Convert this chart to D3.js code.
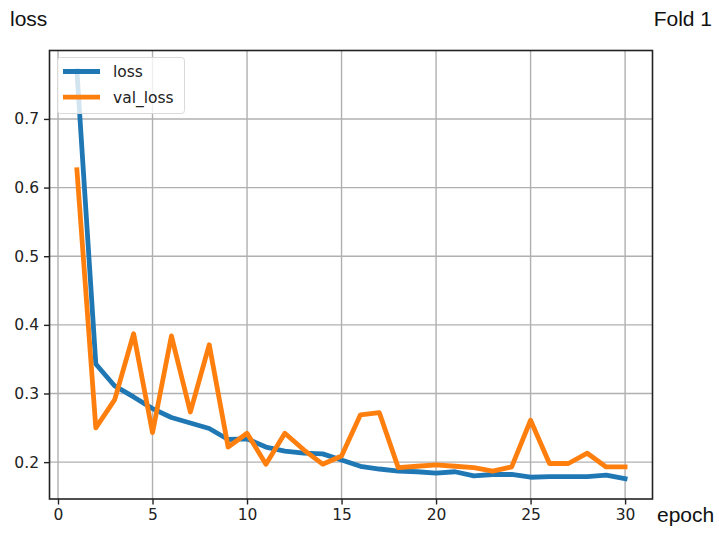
<!DOCTYPE html>
<html>
<head>
<meta charset="utf-8">
<script src="https://cdn.jsdelivr.net/npm/d3@7"></script>
<style>
  html, body { margin: 0; padding: 0; background: #fff; }
  svg { display: block; }
</style>
</head>
<body>
<svg id="chart" width="719" height="533"></svg>
<script>
const epochs = d3.range(1, 31);
const lossValues = [0.770, 0.343, 0.311, 0.295, 0.278, 0.265, 0.257, 0.249, 0.233, 0.234,
                    0.222, 0.216, 0.213, 0.212, 0.203, 0.194, 0.190, 0.187, 0.186, 0.184,
                    0.186, 0.180, 0.182, 0.182, 0.178, 0.179, 0.179, 0.179, 0.181, 0.176];
const valLossValues = [0.626, 0.250, 0.291, 0.387, 0.243, 0.384, 0.273, 0.371, 0.222, 0.242,
                       0.197, 0.242, 0.218, 0.197, 0.209, 0.269, 0.272, 0.192, 0.194, 0.196,
                       0.194, 0.192, 0.187, 0.193, 0.261, 0.198, 0.198, 0.213, 0.193, 0.193];
const xTicks = [0, 5, 10, 15, 20, 25, 30];
const yTicks = [0.2, 0.3, 0.4, 0.5, 0.6, 0.7];
const seriesNames = ["loss", "val_loss"];
const seriesColors = ["#1f77b4", "#ff7f0e"];

(function () {
const svg = d3.select("#chart");
const mLeft = 49.5, mRight = 652.5, mTop = 50.5, mBottom = 499;

const allVals = lossValues.concat(valLossValues);
const yMin = d3.min(allVals), yMax = d3.max(allVals);
const yPad = (yMax - yMin) * 0.05;
const xPad = (30 - 1) * 0.05;

const x = d3.scaleLinear().domain([1 - xPad, 30 + xPad]).range([mLeft, mRight]);
const y = d3.scaleLinear().domain([yMin - yPad, yMax + yPad]).range([mBottom, mTop]);

// grid
const grid = svg.append("g");
grid.selectAll("line.gx").data(xTicks).join("line")
  .attr("x1", d => x(d)).attr("x2", d => x(d))
  .attr("y1", mTop).attr("y2", mBottom)
  .attr("stroke", "#b0b0b0").attr("stroke-width", 1.4);
grid.selectAll("line.gy").data(yTicks).join("line")
  .attr("y1", d => y(d)).attr("y2", d => y(d))
  .attr("x1", mLeft).attr("x2", mRight)
  .attr("stroke", "#b0b0b0").attr("stroke-width", 1.4);

// lines
const series = [lossValues, valLossValues];
const line = d3.line().x((d, i) => x(epochs[i])).y(d => y(d));
svg.append("g").selectAll("path").data(series).join("path")
  .attr("d", d => line(d))
  .attr("fill", "none")
  .attr("stroke", (d, i) => seriesColors[i])
  .attr("stroke-width", 4.8)
  .attr("stroke-linejoin", "round")
  .attr("stroke-linecap", "square");

// axes
const xAxis = d3.axisBottom(x).tickValues(xTicks).tickFormat(d3.format("d")).tickSize(5.5).tickPadding(4);
const yAxis = d3.axisLeft(y).tickValues(yTicks).tickFormat(d3.format(".1f")).tickSize(5.5).tickPadding(5);

const gx = svg.append("g").attr("transform", `translate(0,${mBottom})`).call(xAxis);
const gy = svg.append("g").attr("transform", `translate(${mLeft},0)`).call(yAxis);
[gx, gy].forEach(g => {
  g.select(".domain").remove();
  g.selectAll("line").attr("stroke", "#222").attr("stroke-width", 1.4);
  g.selectAll("text").attr("fill", "#222").style("font-family", "DejaVu Sans").style("font-size", "15.5px");
});

// frame
svg.append("rect")
  .attr("x", mLeft).attr("y", mTop)
  .attr("width", mRight - mLeft).attr("height", mBottom - mTop)
  .attr("fill", "none").attr("stroke", "#222").attr("stroke-width", 1.6);

// legend
const lg = svg.append("g");
lg.append("rect")
  .attr("x", 57.5).attr("y", 57.5).attr("width", 127).attr("height", 56)
  .attr("rx", 3).attr("fill", "#fff").attr("fill-opacity", 0.8)
  .attr("stroke", "#d9d9d9").attr("stroke-width", 1);
seriesNames.forEach((name, i) => {
  const yy = 71.5 + i * 25.7;
  lg.append("line").attr("x1", 63).attr("x2", 100).attr("y1", yy).attr("y2", yy)
    .attr("stroke", seriesColors[i]).attr("stroke-width", 4.8);
  lg.append("text").attr("x", 113).attr("y", yy + 5.5).text(name)
    .attr("fill", "#222").style("font-family", "DejaVu Sans").style("font-size", "15.5px");
});

// outer labels
svg.append("text").attr("x", 10).attr("y", 26).text("loss")
  .style("font-family", "Liberation Sans").style("font-size", "21px").attr("fill", "#111");
svg.append("text").attr("x", 712).attr("y", 26).attr("text-anchor", "end").text("Fold 1")
  .style("font-family", "Liberation Sans").style("font-size", "21px").attr("fill", "#111");
svg.append("text").attr("x", 657).attr("y", 522).text("epoch")
  .style("font-family", "Liberation Sans").style("font-size", "21px").attr("fill", "#111");
})();
</script>
</body>
</html>
